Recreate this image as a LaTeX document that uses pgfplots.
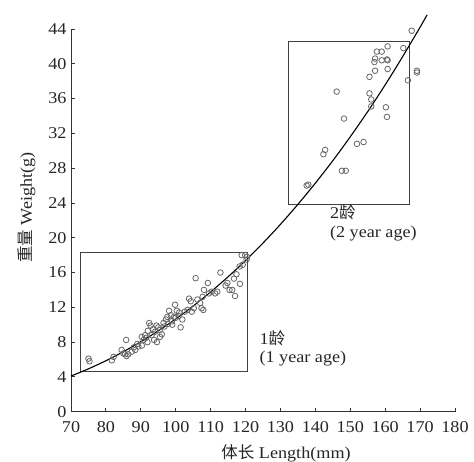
\documentclass[border=0pt]{standalone}
\usepackage{fontspec}
\setmainfont[FakeStretch=1.1]{Liberation Serif}
\newfontfamily\cjk{Noto Sans CJK SC}
\usepackage{pgfplots}
\pgfplotsset{compat=1.18}

% fish growth: weight vs length, 1 and 2 year age groups
\pgfplotstableread{
L W
75.0 6.1
75.3 5.8
81.7 5.9
82.2 6.3
84.5 7.1
85.0 6.7
85.5 6.6
85.9 6.4
85.8 8.25
86.4 6.6
87.4 6.9
88.0 7.4
88.4 7.1
89.0 7.8
89.3 7.5
90.3 7.6
90.3 8.6
90.8 8.25
91.2 8.8
91.5 8.5
91.9 8.0
92.0 9.3
92.4 10.2
92.8 9.9
93.1 8.8
93.5 9.5
93.8 8.25
94.1 9.2
94.5 9.9
94.6 8.0
95.0 9.7
95.5 9.4
95.5 8.6
96.0 8.9
96.5 10.2
96.8 9.8
97.2 10.6
97.6 10.9
97.8 10.1
98.1 11.6
98.6 11.1
98.9 10.4
99.0 10.0
99.5 10.9
99.8 12.3
100.0 10.8
100.3 11.6
100.8 11.0
101.0 11.4
101.4 9.7
101.9 10.6
102.6 11.5
103.4 11.7
103.8 13.0
104.3 12.7
104.6 11.5
105.2 11.9
105.7 15.35
106.2 12.9
107.0 12.5
107.4 11.9
107.7 13.2
107.9 11.7
108.1 14.0
109.2 14.8
109.5 13.6
110.3 13.8
111.3 13.6
111.9 13.8
112.8 16.0
114.3 14.5
114.8 14.8
115.4 14.0
116.2 14.0
116.7 15.3
117.0 13.3
117.4 15.8
118.3 16.7
118.4 14.7
118.9 18.0
119.2 16.9
119.9 18.0
120.3 17.5
120.4 17.8
}\yearone

\pgfplotstableread{
L W
137.5 26.0
138.0 26.1
142.3 29.6
142.8 30.1
146.1 36.8
147.6 27.7
148.7 27.7
148.2 33.7
151.9 30.8
153.8 31.0
155.5 38.5
155.5 36.6
156.0 35.9
156.0 35.1
156.9 40.2
157.1 40.6
157.1 39.2
157.6 41.4
159.0 41.4
159.0 40.4
160.2 35.0
160.5 33.9
160.5 40.5
160.7 40.4
160.7 39.4
160.7 42.0
165.2 41.8
166.5 38.1
167.6 43.8
169.1 39.2
169.1 39.0
}\yeartwo

\pgfplotstableread{
L W
70 4.10
75 4.93
80 5.86
85 6.90
90 8.04
95 9.30
100 10.66
105 12.15
110 13.77
115 15.51
120 17.38
125 19.39
130 21.54
135 23.84
140 26.28
145 28.86
150 31.61
155 34.51
160 37.58
165 40.82
170 44.21
172 45.62
}\fitline

\begin{document}
\begin{tikzpicture}
\useasboundingbox (0,0) rectangle (474pt,461pt);
\begin{axis}[
  at={(71pt,49.3pt)}, anchor=south west,
  scale only axis,
  width=384pt, height=382.7pt,
  xmin=70, xmax=180, ymin=0, ymax=44,
  axis lines=left,
  axis line style={-, black!80, line width=0.9pt},
  xtick={70,80,...,180},
  ytick={0,4,...,44},
  tick align=inside,
  major tick length=4pt,
  tick style={black!80, line width=0.9pt},
  /pgf/number format/assume math mode=true,
  tick label style={font=\fontsize{16.5}{16.5}\selectfont, text=black!85},
  xticklabel style={yshift=-6.5pt},
  yticklabel style={xshift=-1pt},
  clip=false,
]
% age group frames
\addplot[black!75, line width=1pt, sharp plot] coordinates {
(72.8,4.6) (120.7,4.6) (120.7,18.3) (72.8,18.3) (72.8,4.6)};
\addplot[black!75, line width=1pt, sharp plot] coordinates {
(132.3,23.8) (167.1,23.8) (167.1,42.6) (132.3,42.6) (132.3,23.8)};
% observations
\addplot[only marks, mark=o, mark size=2.8pt, mark options={draw=black!60, line width=0.8pt}]
  table[x=L, y=W] {\yearone};
\addplot[only marks, mark=o, mark size=2.8pt, mark options={draw=black!60, line width=0.8pt}]
  table[x=L, y=W] {\yeartwo};
% fitted curve
\addplot[black, line width=1.1pt, smooth, no marks] table[x=L, y=W] {\fitline};

\node[anchor=west, align=left, font=\fontsize{16.5}{18.5}\selectfont, text=black!85]
  at (axis cs:123.0,7.3) {1{\cjk 龄}\\(1 year age)};
\node[anchor=west, align=left, font=\fontsize{16.5}{18.5}\selectfont, text=black!85]
  at (axis cs:143.2,21.7) {2{\cjk 龄}\\(2 year age)};
\node[font=\fontsize{16.5}{16.5}\selectfont, text=black!85]
  at (axis cs:131.6,-4.8) {{\cjk 体长} Length(mm)};
\node[rotate=90, font=\fontsize{16.5}{16.5}\selectfont, text=black!85]
  at (axis cs:57.3,23.5) {{\cjk 重量} Weight(g)};
\end{axis}
\end{tikzpicture}
\end{document}
